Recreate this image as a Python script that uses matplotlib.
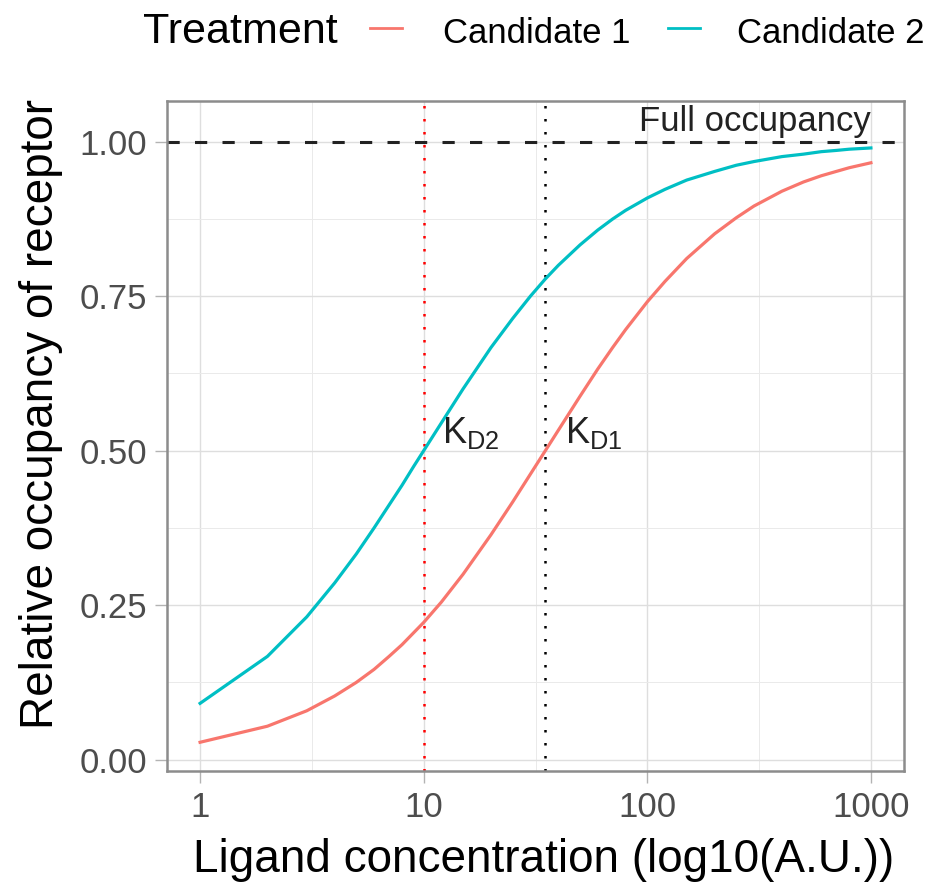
import matplotlib
matplotlib.use("Agg")
import matplotlib.pyplot as plt
from matplotlib.lines import Line2D
from matplotlib.ticker import FixedLocator, NullFormatter

plt.rcParams['font.family'] = ['Liberation Sans', 'DejaVu Sans']
plt.rcParams['mathtext.fontset'] = 'custom'
plt.rcParams['mathtext.rm'] = 'Liberation Sans'

# ligand concentration (A.U.) and relative occupancy
conc = [1, 2, 3, 4, 5, 6, 7, 8, 9, 10, 12, 15, 20, 25, 30, 35, 40, 50, 60, 70,
        80, 100, 120, 150, 200, 250, 300, 400, 500, 600, 700, 800, 1000]
cand1 = [0.028, 0.054, 0.079, 0.103, 0.125, 0.146, 0.167, 0.186, 0.205, 0.222,
         0.255, 0.300, 0.364, 0.417, 0.462, 0.500, 0.533, 0.588, 0.632, 0.667,
         0.696, 0.741, 0.774, 0.811, 0.851, 0.877, 0.896, 0.920, 0.935, 0.945,
         0.952, 0.958, 0.966]
cand2 = [0.091, 0.167, 0.231, 0.286, 0.333, 0.375, 0.412, 0.444, 0.474, 0.500,
         0.545, 0.600, 0.667, 0.714, 0.750, 0.778, 0.800, 0.833, 0.857, 0.875,
         0.889, 0.909, 0.923, 0.938, 0.952, 0.962, 0.968, 0.976, 0.980, 0.984,
         0.986, 0.988, 0.990]

kd1 = 35
kd2 = 10
series_names = ['Candidate 1', 'Candidate 2']
colors = ['#F8766D', '#00BFC4']

x_ticks = [1, 10, 100, 1000]
x_minor = [10 ** 0.5, 10 ** 1.5, 10 ** 2.5]
y_ticks = [0.0, 0.25, 0.5, 0.75, 1.0]
y_minor = [0.125, 0.375, 0.625, 0.875]

W, H = 934, 883
fig = plt.figure(figsize=(W / 100, H / 100), dpi=100)
ax = fig.add_axes([167 / W, 1 - 771 / H, 737 / W, 670 / H])

ax.set_xscale('log')
ax.set_xlim(10 ** -0.148, 10 ** 3.148)
ax.set_ylim(-0.0185, 1.066)

# grid
ax.xaxis.set_major_locator(FixedLocator(x_ticks))
ax.xaxis.set_minor_locator(FixedLocator(x_minor))
ax.xaxis.set_minor_formatter(NullFormatter())
ax.set_xticklabels([str(t) for t in x_ticks])
ax.yaxis.set_major_locator(FixedLocator(y_ticks))
ax.yaxis.set_minor_locator(FixedLocator(y_minor))
ax.set_yticklabels(['%.2f' % t for t in y_ticks])
ax.grid(which='major', color='#DEDEDE', lw=1.0, zorder=0)
ax.grid(which='minor', color='#EAEAEA', lw=0.7, zorder=0)
ax.set_axisbelow(True)

ax.tick_params(which='major', direction='out', length=8.5, width=1.0,
               color='#B3B3B3', labelcolor='#4D4D4D', labelsize=25, pad=6)
ax.tick_params(which='minor', length=0)
for s in ax.spines.values():
    s.set_color('#8C8C8C')
    s.set_linewidth(1.8)

# curves
ax.plot(conc, cand1, color=colors[0], lw=2.3, zorder=3)
ax.plot(conc, cand2, color=colors[1], lw=2.3, zorder=3)

# reference lines
ax.axhline(1.0, color='#222222', lw=2.2, ls=(0, (4, 5)), zorder=2)
ax.axvline(kd2, color='red', lw=1.8, ls=(0, (1, 4.2)), zorder=2)
ax.axvline(kd1, color='black', lw=1.8, ls=(0, (1, 4.2)), zorder=2)

ax.text(1000, 1.017, 'Full occupancy', ha='right', va='baseline',
        fontsize=25, color='#222222')
ax.text(12.1, 0.512, r'$\mathrm{K_{D2}}$', ha='left', va='baseline',
        fontsize=26, color='#222222')
ax.text(42.9, 0.512, r'$\mathrm{K_{D1}}$', ha='left', va='baseline',
        fontsize=26, color='#222222')

# axis titles
ax.set_xlabel('Ligand concentration (log10(A.U.))', fontsize=33, va='baseline')
ax.xaxis.set_label_coords((544 - 167) / 737, (771 - 872) / 670)
ax.set_ylabel('Relative occupancy of receptor', fontsize=33, va='center')
ax.yaxis.set_label_coords((41 - 167) / 737, (771 - 414) / 670)

# legend on top
base = 1 - 43 / H
fig.text(143 / W, base, 'Treatment', fontsize=31, va='baseline', ha='left')
fig.add_artist(Line2D([370 / W, 402 / W], [1 - 28 / H] * 2, color=colors[0], lw=2))
fig.text(443 / W, base, series_names[0], fontsize=25, va='baseline', ha='left')
fig.add_artist(Line2D([668 / W, 700 / W], [1 - 28 / H] * 2, color=colors[1], lw=2))
fig.text(737 / W, base, series_names[1], fontsize=25, va='baseline', ha='left')

fig.savefig('out.png', dpi=100)
